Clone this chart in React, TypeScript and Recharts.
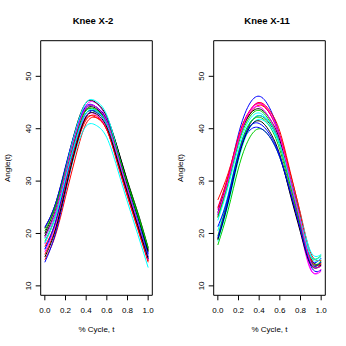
import React from 'react';
import { LineChart, Line, XAxis, YAxis, ReferenceArea } from 'recharts';

const tGrid = [0, 0.1, 0.2, 0.3, 0.4, 0.5, 0.6, 0.7, 0.8, 0.9, 1.0];

const knee2Curves: number[][] = [
  [21.0, 25.5, 32.5, 39.3, 44.0, 44.1, 41.8, 36.5, 30.0, 24.0, 17.3],
  [15.0, 19.5, 27.0, 34.8, 41.0, 42.1, 39.8, 33.5, 27.0, 20.8, 14.5],
  [19.5, 24.0, 31.5, 38.8, 43.5, 43.6, 41.6, 36.0, 29.8, 23.8, 17.0],
  [14.5, 19.8, 28.0, 36.3, 42.3, 43.4, 41.0, 35.0, 28.5, 22.5, 16.0],
  [17.0, 21.5, 28.5, 35.8, 40.5, 40.6, 38.3, 32.5, 26.0, 19.8, 13.5],
  [18.0, 23.5, 31.5, 39.3, 44.5, 44.8, 41.8, 35.5, 28.8, 22.5, 15.5],
  [20.0, 25.0, 32.5, 40.1, 45.0, 44.9, 42.3, 36.5, 29.8, 23.5, 16.8],
  [16.0, 20.8, 28.5, 36.3, 41.7, 42.4, 39.8, 33.8, 27.2, 21.0, 14.8],
  [18.5, 23.0, 30.5, 38.1, 43.0, 43.1, 41.0, 35.2, 28.8, 23.0, 16.5],
  [21.2, 25.5, 32.8, 39.8, 44.3, 44.1, 41.6, 35.8, 29.2, 23.0, 16.2],
  [19.0, 24.0, 32.0, 39.8, 45.0, 45.2, 42.6, 36.0, 29.0, 22.5, 15.2],
  [16.5, 21.5, 29.5, 37.3, 42.5, 42.6, 40.0, 34.0, 27.5, 21.5, 15.0],
  [19.5, 24.2, 31.5, 38.8, 43.7, 43.8, 41.3, 35.5, 29.2, 23.2, 16.6],
  [17.5, 22.0, 29.5, 37.1, 42.0, 42.1, 39.8, 34.0, 27.5, 21.2, 14.8],
  [20.5, 25.0, 32.0, 39.1, 43.5, 43.4, 41.3, 35.8, 29.5, 23.5, 17.2],
  [17.0, 22.0, 30.0, 37.8, 43.0, 43.1, 40.8, 35.0, 28.5, 22.2, 15.5],
  [18.2, 23.0, 30.5, 37.8, 43.0, 43.4, 40.8, 35.0, 28.2, 21.8, 15.2],
  [19.2, 24.0, 31.5, 39.1, 44.0, 44.1, 41.3, 35.2, 28.5, 22.0, 15.0],
  [15.5, 20.5, 28.5, 36.5, 42.3, 42.8, 40.3, 34.2, 27.8, 21.5, 15.2],
];

const knee11Curves: number[][] = [
  [19.0, 26.0, 34.5, 40.5, 42.5, 41.0, 37.0, 29.5, 22.0, 14.5, 13.8],
  [26.4, 31.5, 38.0, 42.5, 44.5, 43.0, 38.8, 31.5, 23.8, 16.2, 14.9],
  [17.8, 24.5, 32.5, 38.0, 40.0, 38.5, 34.5, 28.0, 21.0, 15.5, 15.8],
  [23.5, 30.5, 39.0, 44.5, 46.2, 44.0, 38.5, 30.0, 21.5, 13.8, 13.0],
  [20.5, 27.5, 35.5, 40.8, 42.5, 41.2, 37.5, 30.8, 23.5, 16.5, 16.0],
  [24.5, 30.0, 37.5, 43.0, 45.0, 43.0, 38.0, 29.5, 21.0, 13.2, 12.8],
  [24.0, 30.5, 38.0, 42.5, 43.8, 42.0, 37.8, 30.5, 22.8, 15.3, 14.2],
  [23.2, 30.0, 38.0, 43.0, 45.0, 43.5, 39.5, 31.8, 23.5, 15.2, 14.0],
  [19.5, 27.0, 35.5, 40.8, 42.2, 40.5, 36.0, 28.5, 21.0, 14.3, 14.5],
  [21.3, 27.0, 35.0, 39.5, 40.2, 38.5, 34.5, 27.8, 20.5, 14.8, 15.3],
  [18.5, 25.5, 34.0, 39.8, 41.8, 40.5, 36.8, 30.0, 22.5, 15.5, 15.2],
  [25.0, 31.0, 38.5, 43.0, 44.2, 42.0, 37.2, 29.0, 20.5, 13.0, 13.2],
  [18.8, 26.0, 34.5, 40.0, 41.5, 39.5, 35.0, 27.5, 20.2, 14.0, 14.0],
  [24.8, 31.0, 38.5, 43.2, 44.8, 43.0, 38.5, 30.5, 22.0, 14.8, 14.3],
  [23.0, 29.5, 37.2, 42.0, 43.5, 41.5, 37.0, 29.2, 21.5, 14.6, 14.8],
  [19.2, 26.5, 35.0, 40.2, 41.0, 39.0, 34.8, 28.0, 20.8, 14.3, 14.6],
  [22.5, 29.0, 36.5, 41.5, 43.0, 41.2, 37.0, 30.0, 22.5, 15.8, 15.6],
  [23.8, 30.2, 37.8, 43.0, 44.8, 43.2, 38.5, 30.5, 22.3, 14.5, 13.8],
];

const palette = ['#000000', '#FF0000', '#00CD00', '#0000FF', '#00FFFF', '#FF00FF'];
const xTicks = [0, 0.2, 0.4, 0.6, 0.8, 1.0];
const yTicks = [10, 20, 30, 40, 50];
const titles = ['Knee X-2', 'Knee X-11'];
const xLabel = '% Cycle, t';
const yLabel = 'Angle(t)';

const X_DOMAIN: [number, number] = [-0.04, 1.04];
const Y_DOMAIN: [number, number] = [8.2, 56.8];

const FONT = '"Liberation Sans", Arial, Helvetica, sans-serif';

function buildRows(curves: number[][]) {
  return tGrid.map((t, i) => {
    const row: Record<string, number> = { t };
    curves.forEach((c, k) => {
      row['s' + k] = c[i];
    });
    return row;
  });
}

const YTick = (props: any) => {
  const { x, y, payload } = props;
  const bx = x - 3;
  return (
    <text
      x={bx}
      y={y}
      transform={`rotate(-90 ${bx} ${y})`}
      textAnchor="middle"
      fontSize={8}
      fontFamily={FONT}
      fill="#000"
    >
      {payload.value}
    </text>
  );
};

function Panel({ curves }: { curves: number[][] }) {
  const data = buildRows(curves);
  return (
    <LineChart
      width={173}
      height={346}
      data={data}
      margin={{ top: 40.7, right: 20.7, bottom: 20.7, left: 0 }}
    >
      <XAxis
        dataKey="t"
        type="number"
        domain={X_DOMAIN}
        ticks={xTicks}
        interval={0}
        tickFormatter={(v: number) => v.toFixed(1)}
        axisLine={false}
        tickLine={{ stroke: '#000' }}
        tickSize={5}
        tickMargin={7}
        height={30}
        tick={{ fill: '#000', fontSize: 8, fontFamily: FONT }}
        allowDataOverflow
      />
      <YAxis
        type="number"
        domain={Y_DOMAIN}
        ticks={yTicks}
        interval={0}
        width={40.7}
        axisLine={false}
        tickLine={{ stroke: '#000' }}
        tickSize={5}
        tickMargin={2}
        tick={YTick}
        allowDataOverflow
      />
      {curves.map((_, k) => (
        <Line
          key={k}
          dataKey={'s' + k}
          stroke={palette[k % palette.length]}
          strokeWidth={1}
          dot={false}
          activeDot={false}
          type="natural"
          isAnimationActive={false}
        />
      ))}
      <ReferenceArea
        x1={X_DOMAIN[0]}
        x2={X_DOMAIN[1]}
        y1={Y_DOMAIN[0]}
        y2={Y_DOMAIN[1]}
        fill="none"
        fillOpacity={0}
        stroke="#000"
        strokeWidth={1}
        strokeOpacity={1}
      />
    </LineChart>
  );
}

export default function App() {
  return (
    <div
      style={{
        position: 'absolute',
        top: 0,
        left: 0,
        width: 346,
        height: 346,
        background: '#fff',
      }}
    >
      <div style={{ display: 'flex', width: 346, height: 346 }}>
        <Panel curves={knee2Curves} />
        <Panel curves={knee11Curves} />
      </div>
      <svg
        width={346}
        height={346}
        style={{ position: 'absolute', top: 0, left: 0, pointerEvents: 'none' }}
        fontFamily={FONT}
      >
        {titles.map((title, i) => (
          <text
            key={'t' + i}
            x={93 + i * 174}
            y={24.3}
            textAnchor="middle"
            fontSize={9.5}
            fontWeight="bold"
            fill="#000"
          >
            {title}
          </text>
        ))}
        {titles.map((_, i) => (
          <text
            key={'x' + i}
            x={96.5 + i * 173}
            y={331.5}
            textAnchor="middle"
            fontSize={8}
            fill="#000"
          >
            {xLabel}
          </text>
        ))}
        {titles.map((_, i) => (
          <text
            key={'y' + i}
            x={9.5 + i * 173}
            y={168}
            transform={`rotate(-90 ${9.5 + i * 173} 168)`}
            textAnchor="middle"
            fontSize={8}
            fill="#000"
          >
            {yLabel}
          </text>
        ))}
      </svg>
    </div>
  );
}
